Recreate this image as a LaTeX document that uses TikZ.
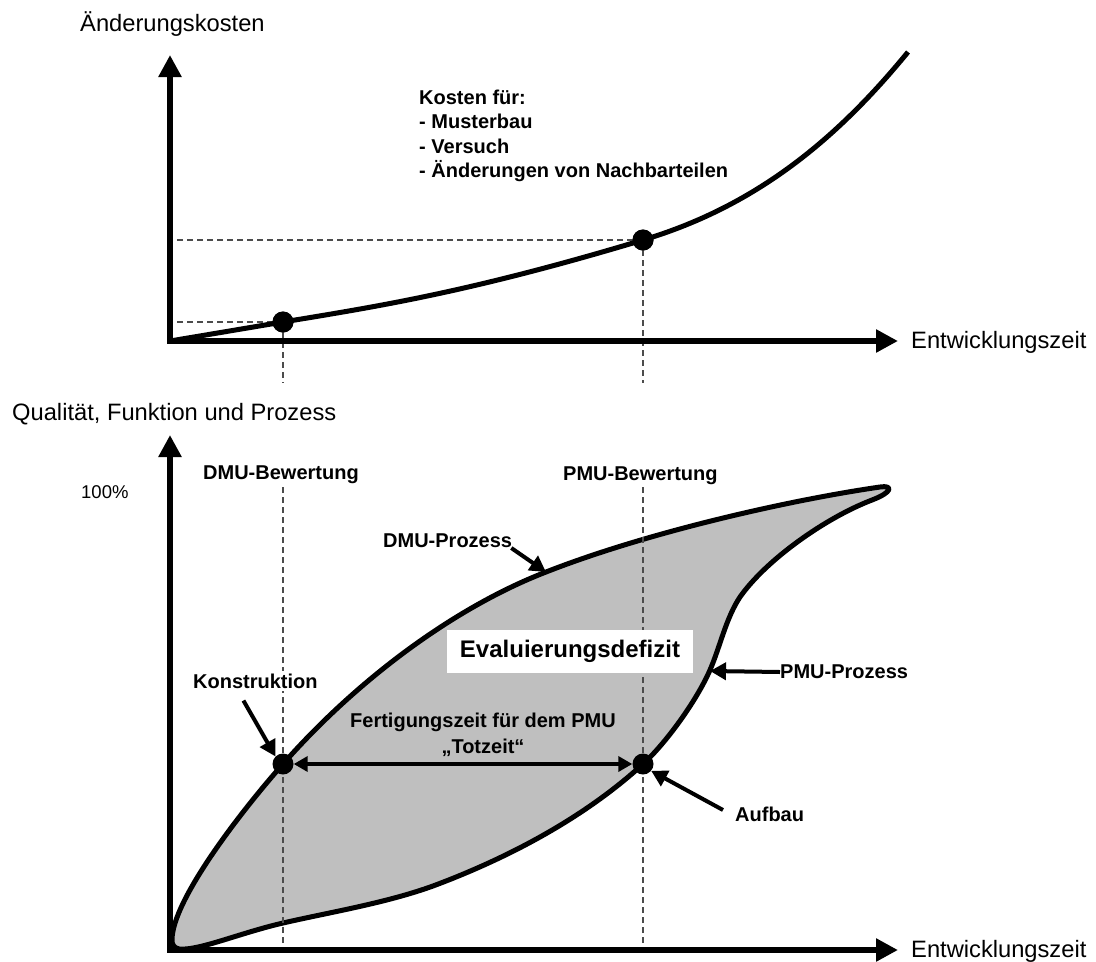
\documentclass[tikz,border=0pt]{standalone}
\usepackage{fontspec}
\setmainfont{Liberation Sans}
\usetikzlibrary{arrows.meta}
\begin{document}
\begin{tikzpicture}[x=1pt,y=-1pt,
  axisline/.style={line width=5.5pt, line join=miter,
    {Triangle[length=22pt,width=22pt]}-{Triangle[length=22pt,width=22pt]}},
  plainlabel/.style={font=\fontsize{23.7}{28}\selectfont, inner sep=0pt},
  boldlabel/.style={font=\fontsize{20}{24.2}\selectfont\bfseries, inner sep=0pt},
  pointdot/.style={circle, fill=black, minimum size=21pt, inner sep=0pt},
  helper/.style={draw=black!70, line width=1.3pt, dash pattern=on 6pt off 4pt},
  curve/.style={line width=5pt, line join=round},
  pointer/.style={line width=4pt, -{Triangle[length=16pt,width=17pt]}},
  span/.style={line width=4pt,
    {Triangle[length=14pt,width=15pt]}-{Triangle[length=14pt,width=15pt]}}
]
\useasboundingbox (0,0) rectangle (1096,962);

% ---------- upper chart: cost of changes ----------
\coordinate (O1) at (170,341);
\coordinate (Y1) at (170,55);
\coordinate (X1) at (898,341);
\node[plainlabel, anchor=west] (ylab1) at (80,24) {Änderungskosten};
\node[plainlabel, anchor=west] (xlab1) at (911,342) {Entwicklungszeit};

\node[pointdot] (p1) at (283,322) {};
\node[pointdot] (p2) at (643,240) {};
\coordinate (p1low) at (283,383);
\coordinate (p2low) at (643,383);

\draw[helper] (p1.center) -- (O1 |- p1.center);
\draw[helper] (p2.center) -- (O1 |- p2.center);
\draw[helper] (p1.center) -- (p1low);
\draw[helper] (p2.center) -- (p2low);

% cost curve
\draw[curve] (O1) -- (p1.center)
  .. controls (380,306) and (470,292) .. (p2.center)
  .. controls (760,205) and (840,135) .. (908,52);
\draw[axisline] (Y1) -- (O1) -- (X1);
\node[pointdot] at (p1) {};
\node[pointdot] at (p2) {};

\node[boldlabel, align=left, anchor=north west] (kosten) at (419,90)
  {Kosten für:\\- Musterbau\\- Versuch\\- Änderungen von Nachbarteilen};

% ---------- lower chart: quality, function and process ----------
\coordinate (O2) at (170,950);
\coordinate (Y2) at (170,435);
\coordinate (X2) at (898,950);
\node[plainlabel, anchor=west] (ylab2) at (12,414) {Qualität, Funktion und Prozess};
\node[plainlabel, anchor=west] (xlab2) at (911,951) {Entwicklungszeit};
\node[font=\fontsize{18.5}{22}\selectfont, inner sep=0pt, anchor=west] (full) at (81,492) {100\%};
\node[boldlabel, anchor=west] (dmueval) at (203,475) {DMU-Bewertung};
\node[boldlabel, anchor=west] (pmueval) at (563,476) {PMU-Bewertung};

% evaluation gap: DMU process on top, PMU process below
\filldraw[curve, fill=black!25]
  (172,940) .. controls (172,900) and (243,809) .. (283,764)
  .. controls (356,681) and (453,608) .. (546,572)
  .. controls (648,532) and (790,500) .. (880,487)
  .. controls (893,485) and (893,492) .. (872,500)
  .. controls (825,518) and (766,560) .. (740,597)
  .. controls (726,618) and (720,647) .. (710,670)
  .. controls (696,702) and (665,744) .. (643,764)
  .. controls (584,818) and (508,858) .. (433,886)
  .. controls (386,903) and (331,912) .. (283,923)
  .. controls (244,932) and (205,948) .. (185,949)
  .. controls (176,950) and (172,947) .. cycle;

\coordinate (d1top) at (283,487);
\coordinate (d1bot) at (283,950);
\coordinate (d2top) at (643,487);
\coordinate (d2bot) at (643,950);
\draw[helper] (d1top) -- (d1bot);
\draw[helper] (d2top) -- (d2bot);

\draw[axisline] (Y2) -- (O2) -- (X2);

\node[fill=white, minimum width=246pt, minimum height=43pt, inner sep=0pt,
  font=\fontsize{24}{28}\selectfont\bfseries] (gap) at (570,651.5) {Evaluierungsdefizit};
\node[boldlabel, fill=white, anchor=west, inner xsep=0pt, inner ysep=3pt] (konst) at (193,681) {Konstruktion};
\node[boldlabel, anchor=west] (dmuproc) at (383,541) {DMU-Prozess};
\node[boldlabel, anchor=west] (pmuproc) at (780,672) {PMU-Prozess};
\node[boldlabel, anchor=west] (aufbau) at (735,814) {Aufbau};
\node[boldlabel, align=center, font=\fontsize{20}{26}\selectfont\bfseries] (dead) at (483,735)
  {Fertigungszeit für dem PMU\\„Totzeit“};

\node[pointdot] (kp) at (283,764) {};
\node[pointdot] (ap) at (643,764) {};

\coordinate (dmucurve) at (546,572);
\coordinate (pmucurve) at (710,671);
\draw[pointer] ([xshift=-1pt,yshift=-7pt]dmuproc.east) -- (dmucurve);
\draw[pointer] (pmuproc.west) -- (pmucurve);
\draw[pointer] ([xshift=-12pt,yshift=-9pt]konst.south) -- (kp.north west);
\draw[pointer] ([xshift=-12pt,yshift=4pt]aufbau.west) -- (ap.-40);
\draw[span] (kp.east) -- (ap.west);
\end{tikzpicture}
\end{document}
